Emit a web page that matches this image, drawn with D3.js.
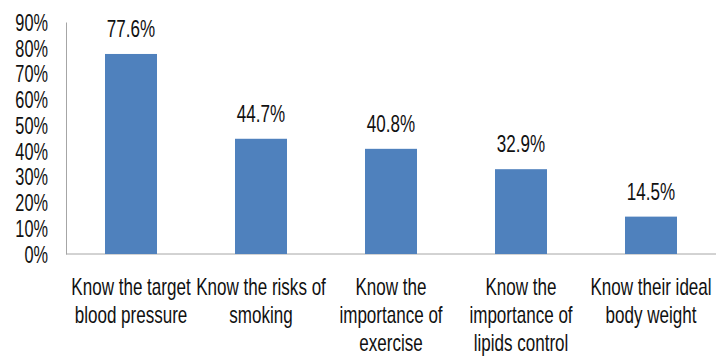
<!DOCTYPE html>
<html>
<head>
<meta charset="utf-8">
<script src="https://cdn.jsdelivr.net/npm/d3@7"></script>
<style>
  body { margin: 0; background: #fff; }
  svg text { font-family: "Liberation Sans", Arial, sans-serif; fill: #111; }
</style>
</head>
<body>
<svg id="chart"></svg>
<script>
// chart data
const categories = [
  ["Know the target", "blood pressure"],
  ["Know the risks of", "smoking"],
  ["Know the", "importance of", "exercise"],
  ["Know the", "importance of", "lipids control"],
  ["Know their ideal", "body weight"]
];
const values = [77.6, 44.7, 40.8, 32.9, 14.5];
const yTicks = [0, 10, 20, 30, 40, 50, 60, 70, 80, 90];

const width = 717, height = 360;
const margin = { top: 22, right: 1, bottom: 106, left: 66 };
const narrow = 0.71; // squeeze text horizontally, like a narrow face
const fs = "24px";

const svg = d3.select("#chart")
  .attr("width", width)
  .attr("height", height);

const g = svg.append("g")
  .attr("transform", `translate(${margin.left}, ${margin.top})`);

const w = width - margin.left - margin.right;
const h = height - margin.top - margin.bottom;

const x = d3.scaleBand()
  .domain(d3.range(values.length))
  .range([0, w])
  .paddingInner(0.6)
  .paddingOuter(0.3);

const y = d3.scaleLinear()
  .domain([0, 90])
  .range([h, 0]);

// y axis, no tick marks
const yAxis = g.append("g")
  .call(d3.axisLeft(y).tickValues(yTicks).tickFormat(d => d + "%").tickSize(0));
yAxis.select(".domain").attr("stroke", "#a6a6a6");
yAxis.selectAll("text")
  .style("font-size", "23px")
  .attr("x", -18 / narrow)
  .attr("dy", "0.36em")
  .attr("transform", `scale(${narrow},1)`);

// x axis line
g.append("line")
  .attr("x1", 0).attr("x2", w)
  .attr("y1", h).attr("y2", h)
  .attr("stroke", "#a6a6a6");

// bars
g.selectAll("rect.bar")
  .data(values)
  .join("rect")
  .attr("class", "bar")
  .attr("x", (d, i) => x(i))
  .attr("y", d => y(d))
  .attr("width", x.bandwidth())
  .attr("height", d => h - y(d))
  .attr("fill", "#4f81bd");

// value labels
g.selectAll("text.val")
  .data(values)
  .join("text")
  .attr("class", "val")
  .attr("text-anchor", "middle")
  .attr("transform", (d, i) => `translate(${x(i) + x.bandwidth() / 2}, ${y(d) - 17}) scale(${narrow},1)`)
  .style("font-size", fs)
  .text(d => d.toFixed(1) + "%");

// category labels
const cat = g.selectAll("text.cat")
  .data(categories)
  .join("text")
  .attr("class", "cat")
  .attr("text-anchor", "middle")
  .attr("transform", (d, i) => `translate(${x(i) + x.bandwidth() / 2}, ${h + 41}) scale(${narrow},1)`)
  .style("font-size", fs);

cat.selectAll("tspan")
  .data(d => d)
  .join("tspan")
  .attr("x", 0)
  .attr("y", (d, i) => i * 28)
  .text(d => d);
</script>
</body>
</html>
